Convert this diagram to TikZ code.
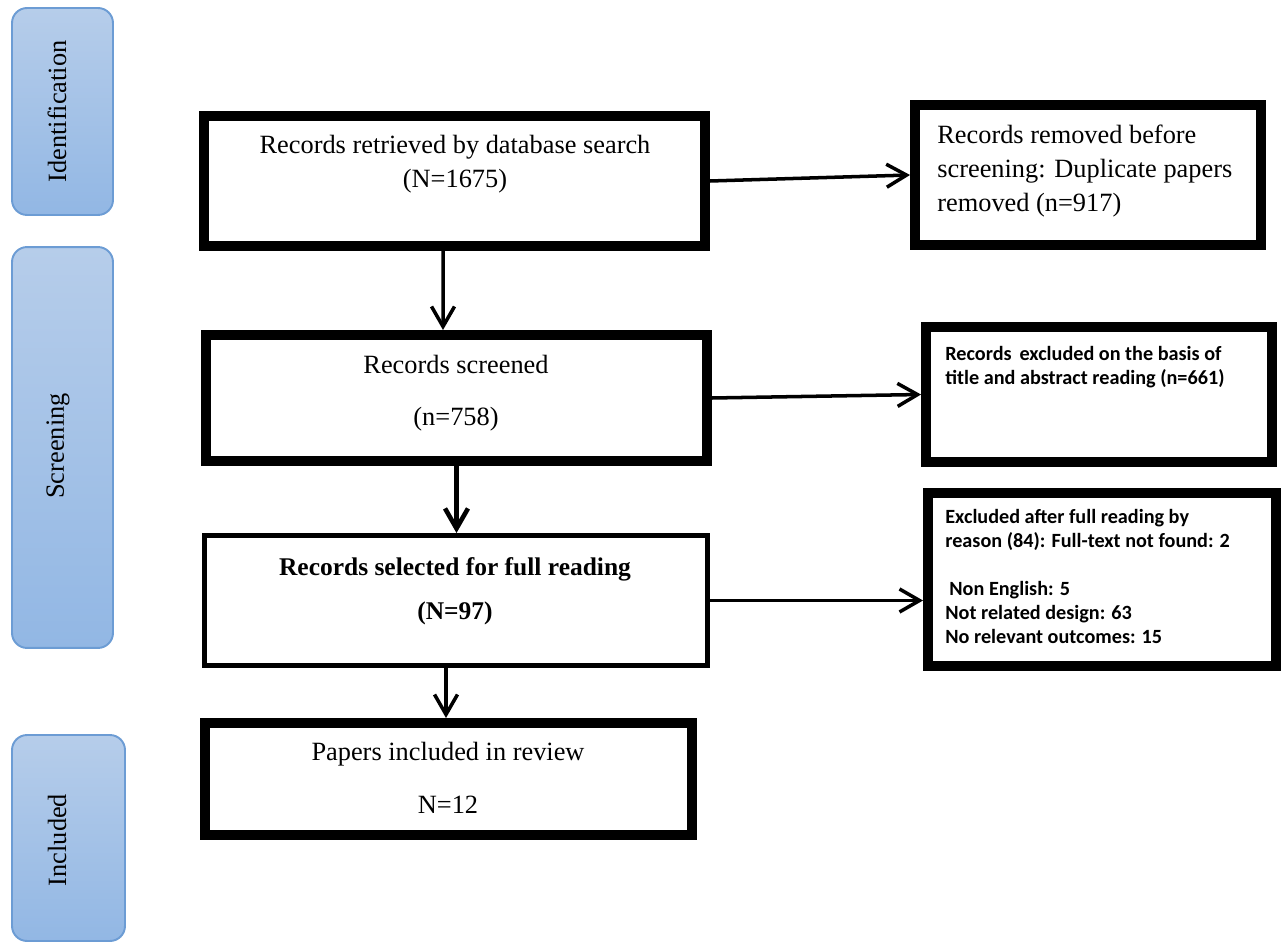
\documentclass[tikz,border=0pt]{standalone}
\usepackage{fontspec}
\setmainfont{Liberation Serif}
\newfontfamily\calfont{Carlito}
\usetikzlibrary{arrows.meta,positioning}

\begin{document}
\begin{tikzpicture}[x=0.02cm,y=-0.02cm,
    stage/.style={draw=stageedge, line width=1.1pt, rounded corners=0.3cm,
                  top color=stagetop, bottom color=stagebottom, inner sep=0pt},
    stagetext/.style={rotate=90, inner sep=0pt, font=\fontsize{15}{18}\selectfont},
    flowbox/.style={draw, line width=0.2cm, inner sep=0pt},
    boxtext/.style={inner sep=0pt, align=center, font=\fontsize{15}{19.3}\selectfont},
    sidetext/.style={inner sep=0pt, align=left,
                     font=\calfont\bfseries\fontsize{11.5}{13.7}\selectfont},
    conn/.style={line width=2pt, -{Straight Barb[length=0.4cm,width=0.46cm]}}]
    \definecolor{stagetop}{RGB}{182,205,234}
    \definecolor{stagebottom}{RGB}{146,183,228}
    \definecolor{stageedge}{RGB}{108,156,212}

    \useasboundingbox (0,0) rectangle (1281,942);

    % stages on the left
    \node[stage, minimum width=2.02cm, minimum height=4.14cm] (ident) at (62.5,111.5) {};
    \node[stagetext] (identlbl) at (57,111.5) {Identification};
    \node[stage, minimum width=2.02cm, minimum height=8.02cm] (screen) at (62.5,447.5) {};
    \node[stagetext] (screenlbl) at (58,446) {Screening};
    \node[stage, minimum width=2.26cm, minimum height=4.12cm] (incl) at (68.5,838) {};
    \node[stagetext] (incllbl) at (57,840) {Included};

    % main column
    \node[flowbox, minimum width=10.02cm, minimum height=2.6cm] (b1) at (454.5,181) {};
    \node[boxtext, anchor=north] (t1) at (455,135)
        {Records retrieved by database search\\(N=1675)};

    \node[flowbox, minimum width=10.02cm, minimum height=2.52cm] (b3) at (456.5,398) {};
    \node[boxtext, anchor=north] (t3) at (456,355)
        {Records screened\\[10pt](n=758)};

    \node[flowbox, line width=0.1cm, minimum width=10.06cm, minimum height=2.6cm] (b5) at (456,600.5) {};
    \node[boxtext, anchor=north, font=\bfseries\fontsize{14.5}{19.3}\selectfont] (t5) at (455,557)
        {Records selected for full reading\\[6pt](N=97)};

    \node[flowbox, minimum width=9.74cm, minimum height=2.24cm] (b7) at (448.5,779) {};
    \node[boxtext, anchor=north] (t7) at (448,742)
        {Papers included in review\\[10.5pt]N=12};

    % exclusions on the right
    \node[flowbox, minimum width=6.92cm, minimum height=2.8cm] (b2) at (1088,175) {};
    \node[boxtext, align=left, anchor=north west] (t2) at (937,125)
        {Records removed before\\screening: Duplicate papers\\removed (n=917)};

    \node[flowbox, minimum width=6.92cm, minimum height=2.7cm] (b4) at (1099,394.5) {};
    \node[sidetext, anchor=north west] (t4) at (945,346)
        {Records\, excluded on the basis of\\title and abstract reading (n=661)};

    \node[flowbox, minimum width=6.96cm, minimum height=3.46cm] (b6) at (1102,579.5) {};
    \node[sidetext, anchor=north west] (t6) at (945,509)
        {Excluded after full reading by\\reason (84): Full-text not found: 2\\[13.7pt]
         \hspace*{0.2em}Non English: 5\\Not related design: 63\\No relevant outcomes: 15};

    % connectors
    \draw[conn] (b1.east) -- (b2.west);
    \draw[conn] ([xshift=-0.23cm]b1.south) -- ([xshift=-0.27cm]b3.north);
    \draw[conn] (b3.east) -- (b4.west);
    \draw[conn, line width=2.6pt] (b3.south) -- (b3.south |- b5.north);
    \draw[conn] (b5.east) -- (b5.east -| b6.west);
    \draw[conn] ([xshift=-0.2cm]b5.south) -- ([xshift=-0.2cm]b5.south |- b7.north);
\end{tikzpicture}
\end{document}
